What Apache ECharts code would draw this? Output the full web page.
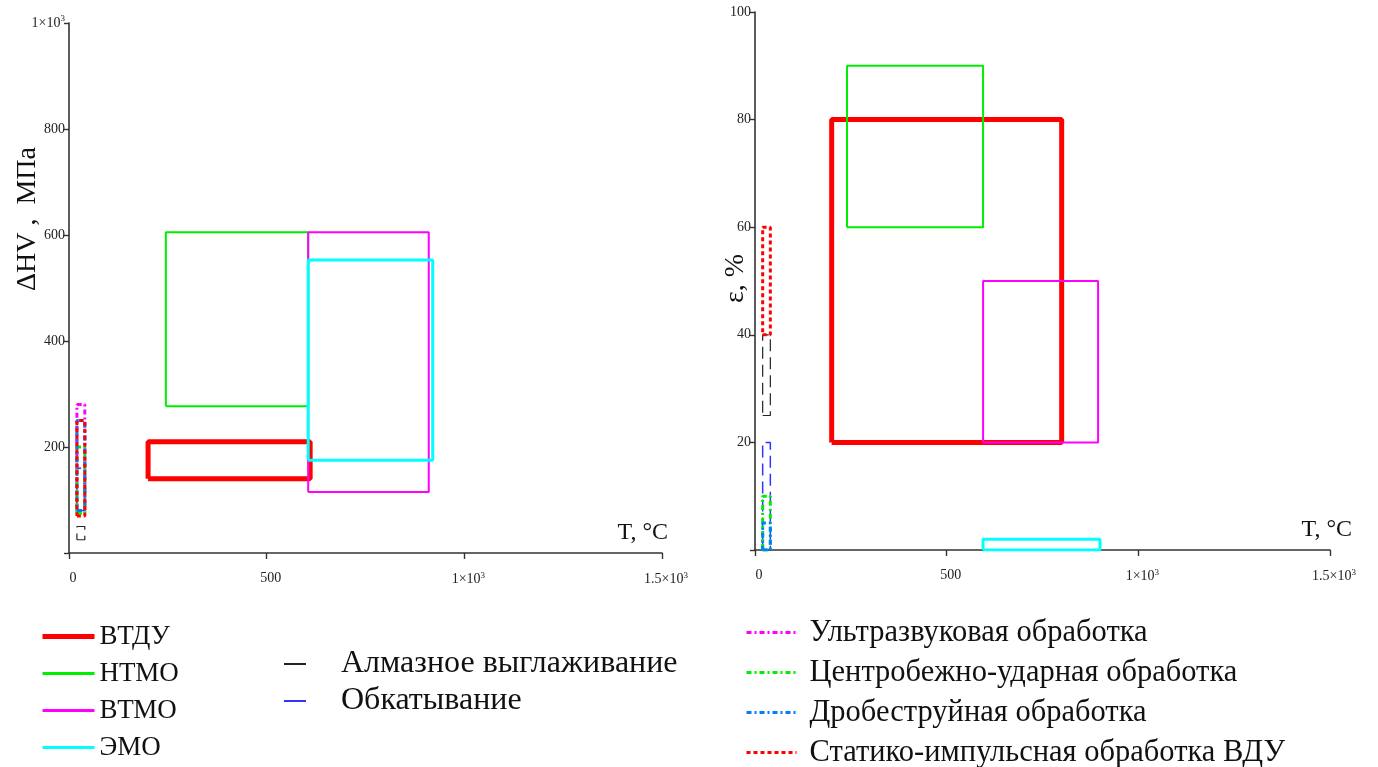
<!DOCTYPE html>
<html>
<head>
<meta charset="utf-8">
<script src="https://cdn.jsdelivr.net/npm/echarts@6/dist/echarts.min.js"></script>
<style>
  html, body { margin: 0; padding: 0; background: #fff; }
  #chart { width: 1378px; height: 767px; }
</style>
</head>
<body>
<div id="chart"></div>
<script>
// Treatment methods (legend order)
const methods = [
  'ВТДУ', 'НТМО', 'ВТМО', 'ЭМО',
  'Алмазное выглаживание', 'Обкатывание',
  'Ультразвуковая обработка', 'Центробежно-ударная обработка',
  'Дробеструйная обработка', 'Статико-импульсная обработка ВДУ'
];

// Left panel: temperature range (°C) and hardening ΔHV range (MPa)
const tempHV = [[200, 610], [245, 605], [605, 910], [605, 920],
                [20, 40], [20, 40], [20, 40], [20, 40], [20, 40], [20, 40]];
const hvRange = [[140, 210], [277, 605], [115, 605], [175, 553],
                 [25, 50], [80, 160], [80, 280], [75, 200], [80, 250], [70, 250]];

// Right panel: temperature range (°C) and strain ε range (%)
const tempEps = [[200, 800], [240, 595], [595, 895], [595, 900],
                 [20, 40], [20, 40], null, [20, 40], [20, 40], [20, 40]];
const epsRange = [[20, 80], [60, 90], [20, 50], [0, 2],
                  [25, 40], [0, 20], null, [0, 10], [0, 5], [40, 60]];

// Axis ticks
const tTicks = [0, 500, 1000, 1500];
const hvTicks = [200, 400, 600, 800, 1000];
const epsTicks = [20, 40, 60, 80, 100];

// Line look per method (legendWidth / legendType: look of the legend key)
const styles = [
  { color: '#ff0000', width: 5, type: 'solid', legendWidth: 5 },
  { color: '#00ee00', width: 2, type: 'solid', legendWidth: 3 },
  { color: '#ff00ff', width: 2, type: 'solid', legendWidth: 3 },
  { color: '#00ffff', width: 3, type: 'solid', legendWidth: 3 },
  { color: '#222222', width: 1.2, type: [12, 6], legendWidth: 2, legendType: 'solid' },
  { color: '#3333ff', width: 1.5, type: [12, 6], legendWidth: 2, legendType: 'solid' },
  { color: '#ff00ff', width: 3, type: [5, 3, 2, 3], legendWidth: 3 },
  { color: '#00ee00', width: 3, type: [5, 3, 2, 3], legendWidth: 3 },
  { color: '#0080ff', width: 3, type: [5, 3, 2, 3], legendWidth: 3 },
  { color: '#ff0000', width: 3, type: [4, 3], legendWidth: 3 }
];

const SERIF = '"Liberation Serif", "Times New Roman", serif';

function rect(t, v) {
  return [[t[0], v[0]], [t[1], v[0]], [t[1], v[1]], [t[0], v[1]], [t[0], v[0]]];
}

function sci(v) {
  if (v === 1000) return '1×10{sup|3}';
  if (v === 1500) return '1.5×10{sup|3}';
  return String(v);
}

const tickRich = { sup: { fontSize: 9, verticalAlign: 'top', padding: [0, 0, 8, 0], fontFamily: SERIF, color: '#222' } };

function xAxis(gridIndex, nameGap) {
  return {
    type: 'value', gridIndex, min: 0, max: 1500, interval: 500,
    name: 'T, °C', nameLocation: 'end', nameGap,
    nameTextStyle: { fontFamily: SERIF, fontSize: 24, color: '#111', align: 'right', verticalAlign: 'bottom', padding: [0, 0, 8, 0] },
    axisLine: { show: true, onZero: false, lineStyle: { color: '#333', width: 1.6 } },
    axisTick: { show: true, length: 6, lineStyle: { color: '#333', width: 1.4 } },
    axisLabel: {
      margin: 18, fontFamily: SERIF, fontSize: 14, color: '#222', padding: [0, 0, 0, 8],
      formatter: v => tTicks.includes(v) ? sci(v) : '', rich: tickRich
    },
    splitLine: { show: false }
  };
}

function yAxis(gridIndex, max, interval, ticks) {
  return {
    type: 'value', gridIndex, min: 0, max, interval,
    axisLine: { show: true, onZero: false, lineStyle: { color: '#333', width: 1.6 } },
    axisTick: { show: true, length: 5, lineStyle: { color: '#333', width: 1.4 } },
    axisLabel: {
      margin: 4, fontFamily: SERIF, fontSize: 14, color: '#222',
      formatter: v => ticks.includes(v) ? sci(v) : '', rich: tickRich
    },
    splitLine: { show: false }
  };
}

const series = [];
methods.forEach((name, i) => {
  const st = styles[i];
  const base = {
    name, type: 'line', symbol: 'none', animation: false,
    lineStyle: { color: st.color, width: st.width, type: st.type },
    itemStyle: { color: st.color }
  };
  series.push(Object.assign({}, base, { xAxisIndex: 0, yAxisIndex: 0, data: rect(tempHV[i], hvRange[i]) }));
  if (tempEps[i]) {
    series.push(Object.assign({}, base, { xAxisIndex: 1, yAxisIndex: 1, data: rect(tempEps[i], epsRange[i]) }));
  }
});

function legendText(size, padLeft) {
  return { fontFamily: SERIF, fontSize: size, color: '#111', padding: [0, 0, 0, padLeft] };
}

function legendItems(from, to) {
  return methods.slice(from, to).map((name, k) => {
    const st = styles[from + k];
    return { name, lineStyle: { width: st.legendWidth, type: st.legendType || st.type, color: st.color } };
  });
}

// Legend keys are drawn as bare line samples (no marker in the middle)
const legendBase = {
  orient: 'vertical', padding: 0, itemHeight: 10, selectedMode: false,
  itemStyle: { opacity: 0 }, height: 200
};

const option = {
  backgroundColor: '#ffffff',
  animation: false,
  grid: [
    { left: 69, top: 23, width: 593, height: 530 },
    { left: 755, top: 12, width: 575, height: 538 }
  ],
  xAxis: [xAxis(0, 6), xAxis(1, 22)],
  yAxis: [yAxis(0, 1000, 200, hvTicks), yAxis(1, 100, 20, epsTicks)],
  legend: [
    Object.assign({}, legendBase, {
      data: legendItems(0, 4), left: 40, top: 623,
      itemWidth: 52, itemGap: 10, textStyle: legendText(27, 0)
    }),
    Object.assign({}, legendBase, {
      data: legendItems(4, 6), left: 283, top: 648,
      itemWidth: 22, itemGap: 5, textStyle: legendText(32, 30)
    }),
    Object.assign({}, legendBase, {
      data: legendItems(6, 10), left: 745, top: 617,
      itemWidth: 50, itemGap: 9, textStyle: legendText(30.5, 8)
    })
  ],
  graphic: [
    {
      type: 'text', left: 14, top: 147, rotation: Math.PI / 2,
      style: { text: 'ΔHV ,  МПа', font: '28px ' + SERIF, fill: '#111' }
    },
    {
      type: 'text', left: 722, top: 254, rotation: Math.PI / 2,
      style: { text: 'ε, %', font: '28px ' + SERIF, fill: '#111' }
    }
  ],
  series
};

const chart = echarts.init(document.getElementById('chart'), null, { renderer: 'canvas' });
chart.setOption(option);
</script>
</body>
</html>
